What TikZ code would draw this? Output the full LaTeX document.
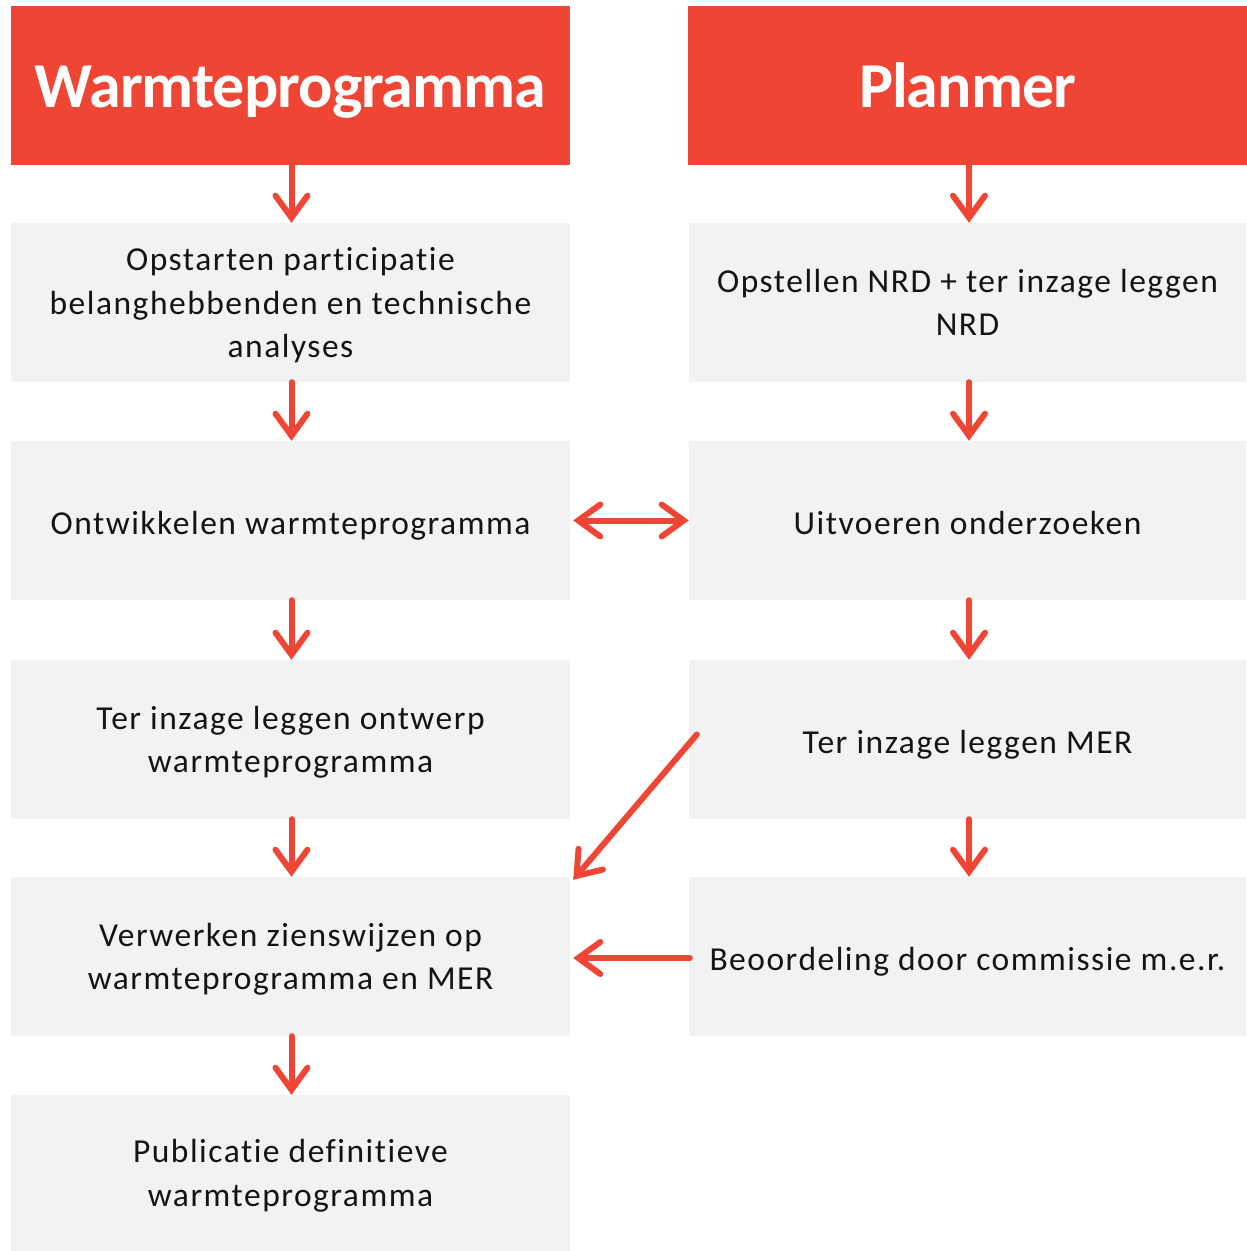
\documentclass[tikz,border=0pt]{standalone}
\usepackage{fontspec}
\setmainfont{Carlito}[Ligatures=NoCommon]
\newfontfamily\bodyfont{Carlito}[LetterSpace=4.5, Ligatures=NoCommon]
\newfontfamily\headfont{Carlito}[LetterSpace=-1.5, Ligatures=NoCommon]
\usetikzlibrary{arrows.meta}
\definecolor{hred}{RGB}{239,69,53}
\definecolor{boxgray}{RGB}{242,242,242}
\definecolor{txt}{RGB}{20,20,20}
\tikzset{
  head/.style={fill=hred, text=white, minimum width=559pt, minimum height=159pt, inner sep=0pt,
    font=\headfont\fontsize{64}{76}\selectfont\bfseries,
    execute at begin node={\rule{0pt}{55pt}}, execute at end node={\rule[-12pt]{0pt}{12pt}}},
  stepbox/.style={fill=boxgray, text=txt, minimum width=559pt, minimum height=159pt, inner sep=0pt,
    align=center, font=\bodyfont\fontsize{33.5}{43.5}\selectfont,
    execute at begin node={\rule{0pt}{35pt}}, execute at end node={\rule[-8pt]{0pt}{8pt}}},
  multi/.style={text depth=-6pt},
  flow/.style={draw=hred, line width=6pt, line cap=round,
    -{Straight Barb[length=22pt, width=32pt, line width=6pt, line cap=round]}},
  flow2/.style={draw=hred, line width=6pt, line cap=round,
    {Straight Barb[length=22pt, width=32pt, line width=6pt, line cap=round]}-{Straight Barb[length=22pt, width=32pt, line width=6pt, line cap=round]}}
}
\begin{document}
\begin{tikzpicture}[x=1pt,y=-1pt]
\useasboundingbox (0,0) rectangle (1247,1251);
\node[head] (h1) at (290.5,85.5) {Warmteprogramma};
\node[head] (h2) at (967.5,85.5) {Planmer};
\node[stepbox, multi] (l1) at (290.5,302.5) {Opstarten participatie\\belanghebbenden en technische\\analyses};
\node[stepbox] (l2) at (290.5,520.5) {Ontwikkelen warmteprogramma};
\node[stepbox, multi] (l3) at (290.5,739.5) {Ter inzage leggen ontwerp\\warmteprogramma};
\node[stepbox, multi] (l4) at (290.5,956.5) {Verwerken zienswijzen op\\warmteprogramma en MER};
\node[stepbox, multi, minimum height=156pt] (l5) at (290.5,1173) {Publicatie definitieve\\warmteprogramma};
\node[stepbox, multi, minimum width=557pt] (r1) at (967.5,302.5) {Opstellen NRD + ter inzage leggen\\NRD};
\node[stepbox, minimum width=557pt] (r2) at (967.5,520.5) {Uitvoeren onderzoeken};
\node[stepbox, minimum width=557pt] (r3) at (967.5,739.5) {Ter inzage leggen MER};
\node[stepbox, minimum width=557pt] (r4) at (967.5,956.5) {Beoordeling door commissie m.e.r.};
\draw[flow] ([xshift=1pt]h1.south) -- ([xshift=1pt]l1.north);
\draw[flow] ([xshift=1pt]l1.south) -- ([xshift=1pt]l2.north);
\draw[flow] ([xshift=1pt]l2.south) -- ([xshift=1pt]l3.north);
\draw[flow] ([xshift=1pt]l3.south) -- ([xshift=1pt]l4.north);
\draw[flow] ([xshift=1pt]l4.south) -- ([xshift=1pt]l5.north);
\draw[flow] ([xshift=1.5pt]h2.south) -- ([xshift=1.5pt]r1.north);
\draw[flow] ([xshift=1.5pt]r1.south) -- ([xshift=1.5pt]r2.north);
\draw[flow] ([xshift=1.5pt]r2.south) -- ([xshift=1.5pt]r3.north);
\draw[flow] ([xshift=1.5pt]r3.south) -- ([xshift=1.5pt]r4.north);
\draw[flow2] ([xshift=3pt]l2.east) -- ([xshift=0pt]r2.west);
\draw[flow] ([xshift=8pt,yshift=5pt]r3.west) -- ([xshift=3pt,yshift=-3pt]l4.north east);
\draw[flow] ([xshift=1pt,yshift=-1.5pt]r4.west) -- ([xshift=3pt,yshift=-1.5pt]l4.east);
\end{tikzpicture}
\end{document}
